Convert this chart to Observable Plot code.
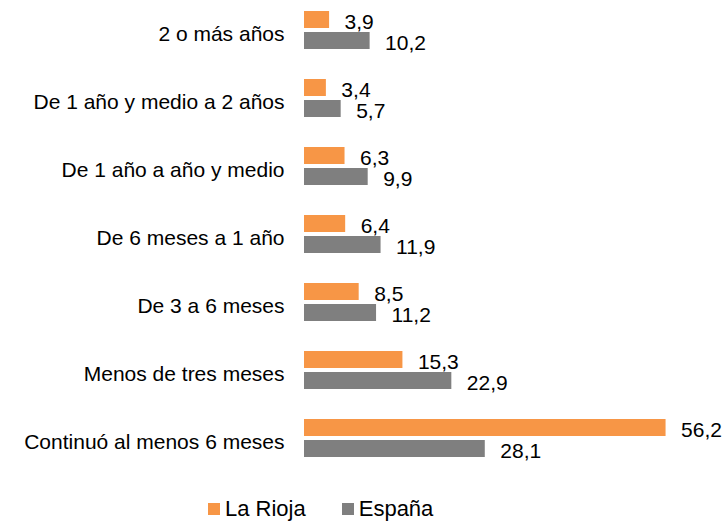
<!DOCTYPE html>
<html>
<head>
<meta charset="utf-8">
<script src="https://cdn.jsdelivr.net/npm/d3@7"></script>
<script src="https://cdn.jsdelivr.net/npm/@observablehq/plot@0.6"></script>
<style>
  html, body { margin: 0; padding: 0; background: #fff; }
  body { width: 727px; height: 522px; overflow: hidden; font-family: "Liberation Sans", Arial, sans-serif; }
  #chart svg { display: block; }
  #legend { display: flex; align-items: center; margin-left: 208px; margin-top: 30px; font-size: 22px; line-height: 22px; height: 22px; color: #000; }
  #legend .item { display: flex; align-items: center; margin-right: 36px; }
  #legend .sw { width: 12px; height: 12px; margin-right: 5px; }
</style>
</head>
<body>
<div id="chart"></div>
<div id="legend"></div>
<script>
const categories = [
  "2 o más años",
  "De 1 año y medio a 2 años",
  "De 1 año a año y medio",
  "De 6 meses a 1 año",
  "De 3 a 6 meses",
  "Menos de tres meses",
  "Continuó al menos 6 meses"
];
const series = ["La Rioja", "España"];
const laRioja = [3.9, 3.4, 6.3, 6.4, 8.5, 15.3, 56.2];
const espana = [10.2, 5.7, 9.9, 11.9, 11.2, 22.9, 28.1];
const colors = ["#F79646", "#7F7F7F"];

const data = [];
categories.forEach((c, i) => {
  data.push({category: c, series: series[0], value: laRioja[i]});
  data.push({category: c, series: series[1], value: espana[i]});
});
const fmt = v => v.toFixed(1).replace(".", ",");

const chart = Plot.plot({
  width: 727,
  height: 468,
  marginLeft: 304,
  marginRight: 37,
  marginTop: 0,
  marginBottom: 0,
  style: {fontFamily: "Liberation Sans, Arial, sans-serif", fontSize: "21px", color: "#000", background: "#fff"},
  x: {domain: [0, 60], axis: null},
  y: {domain: series, axis: null, paddingInner: 0.18, paddingOuter: 0.3},
  fy: {domain: categories, paddingInner: 0.233, paddingOuter: 0.05, label: null},
  color: {domain: series, range: colors},
  marks: [
    Plot.axisFy({anchor: "left", tickSize: 0, tickPadding: 20, fontSize: 21, dy: 4, label: null}),
    Plot.barX(data, {fy: "category", y: "series", x: "value", fill: "series"}),
    Plot.text(data, {fy: "category", y: "series", x: "value", text: d => fmt(d.value), dx: 15, dy: 2, textAnchor: "start", fontSize: 21, fill: "#000"})
  ]
});
document.getElementById("chart").appendChild(chart);

const legend = document.getElementById("legend");
series.forEach((s, i) => {
  const item = document.createElement("div");
  item.className = "item";
  const sw = document.createElement("div");
  sw.className = "sw";
  sw.style.background = colors[i];
  const t = document.createElement("span");
  t.textContent = s;
  item.appendChild(sw);
  item.appendChild(t);
  legend.appendChild(item);
});
</script>
</body>
</html>
